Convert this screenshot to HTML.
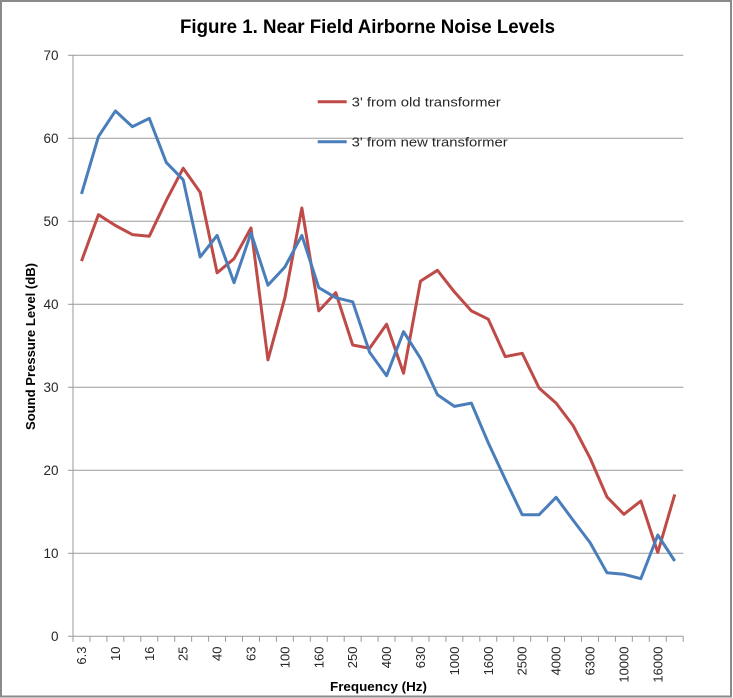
<!DOCTYPE html>
<html><head><meta charset="utf-8"><style>
html,body{margin:0;padding:0;background:#fff;}
svg{display:block;}
text{font-family:"Liberation Sans",Arial,sans-serif;fill:#262626;}
</style></head><body>
<svg width="733" height="698" viewBox="0 0 733 698" xmlns="http://www.w3.org/2000/svg">
<rect x="0" y="0" width="733" height="698" fill="#fff"/>
<rect x="1" y="1" width="730" height="695.5" fill="none" stroke="#8a8a8a" stroke-width="2"/>
<text x="367.5" y="33" font-size="19" font-weight="bold" text-anchor="middle" textLength="375" lengthAdjust="spacingAndGlyphs" style="fill:#000">Figure 1. Near Field Airborne Noise Levels</text>
<g stroke="#9a9a9a" stroke-width="1">
<line x1="73" y1="553.3" x2="683.3" y2="553.3"/>
<line x1="73" y1="470.3" x2="683.3" y2="470.3"/>
<line x1="73" y1="387.3" x2="683.3" y2="387.3"/>
<line x1="73" y1="304.3" x2="683.3" y2="304.3"/>
<line x1="73" y1="221.3" x2="683.3" y2="221.3"/>
<line x1="73" y1="138.3" x2="683.3" y2="138.3"/>
<line x1="73" y1="55.3" x2="683.3" y2="55.3"/>
<line x1="73" y1="55.3" x2="73" y2="636.3"/>
<line x1="68" y1="636.3" x2="683.3" y2="636.3"/>
<line x1="68" y1="553.3" x2="73" y2="553.3"/>
<line x1="68" y1="470.3" x2="73" y2="470.3"/>
<line x1="68" y1="387.3" x2="73" y2="387.3"/>
<line x1="68" y1="304.3" x2="73" y2="304.3"/>
<line x1="68" y1="221.3" x2="73" y2="221.3"/>
<line x1="68" y1="138.3" x2="73" y2="138.3"/>
<line x1="68" y1="55.3" x2="73" y2="55.3"/>
</g>
<g stroke="#9a9a9a" stroke-width="1" id="xt"></g>
<path stroke="#9a9a9a" stroke-width="1" fill="none" d="M73 636.3v5.5M89.95 636.3v5.5M106.9 636.3v5.5M123.85 636.3v5.5M140.8 636.3v5.5M157.75 636.3v5.5M174.7 636.3v5.5M191.65 636.3v5.5M208.6 636.3v5.5M225.55 636.3v5.5M242.5 636.3v5.5M259.45 636.3v5.5M276.4 636.3v5.5M293.35 636.3v5.5M310.3 636.3v5.5M327.25 636.3v5.5M344.2 636.3v5.5M361.15 636.3v5.5M378.1 636.3v5.5M395.05 636.3v5.5M412 636.3v5.5M428.95 636.3v5.5M445.9 636.3v5.5M462.85 636.3v5.5M479.8 636.3v5.5M496.75 636.3v5.5M513.7 636.3v5.5M530.65 636.3v5.5M547.6 636.3v5.5M564.55 636.3v5.5M581.5 636.3v5.5M598.45 636.3v5.5M615.4 636.3v5.5M632.35 636.3v5.5M649.3 636.3v5.5M666.25 636.3v5.5M683.2 636.3v5.5"/>
<g font-size="13.5" text-anchor="end">
<text x="58.5" y="641">0</text>
<text x="58.5" y="558">10</text>
<text x="58.5" y="475">20</text>
<text x="58.5" y="392">30</text>
<text x="58.5" y="309">40</text>
<text x="58.5" y="226">50</text>
<text x="58.5" y="143">60</text>
<text x="58.5" y="60">70</text>
</g>
<g font-size="13" text-anchor="end">
<text transform="translate(86,646.5) rotate(-90)">6.3</text>
<text transform="translate(119.9,646.5) rotate(-90)">10</text>
<text transform="translate(153.8,646.5) rotate(-90)">16</text>
<text transform="translate(187.7,646.5) rotate(-90)">25</text>
<text transform="translate(221.6,646.5) rotate(-90)">40</text>
<text transform="translate(255.5,646.5) rotate(-90)">63</text>
<text transform="translate(289.4,646.5) rotate(-90)">100</text>
<text transform="translate(323.3,646.5) rotate(-90)">160</text>
<text transform="translate(357.2,646.5) rotate(-90)">250</text>
<text transform="translate(391.1,646.5) rotate(-90)">400</text>
<text transform="translate(425,646.5) rotate(-90)">630</text>
<text transform="translate(458.9,646.5) rotate(-90)">1000</text>
<text transform="translate(492.8,646.5) rotate(-90)">1600</text>
<text transform="translate(526.7,646.5) rotate(-90)">2500</text>
<text transform="translate(560.6,646.5) rotate(-90)">4000</text>
<text transform="translate(594.5,646.5) rotate(-90)">6300</text>
<text transform="translate(628.4,646.5) rotate(-90)">10000</text>
<text transform="translate(662.3,646.5) rotate(-90)">16000</text>
</g>
<text x="378.5" y="691" font-size="13" font-weight="bold" text-anchor="middle" textLength="97" lengthAdjust="spacingAndGlyphs" style="fill:#000">Frequency (Hz)</text>
<text transform="translate(35,346.5) rotate(-90)" font-size="13" font-weight="bold" text-anchor="middle" textLength="167" lengthAdjust="spacingAndGlyphs" style="fill:#000">Sound Pressure Level (dB)</text>
<polyline fill="none" stroke="#BE4B48" stroke-width="3" stroke-linejoin="round" points="81.5,261.1 98.45,214.7 115.4,225.5 132.35,234.6 149.3,236.2 166.25,200.6 183.2,168.2 200.15,192.3 217.1,272.8 234.05,258.7 251,227.9 267.95,359.9 284.9,297.7 301.85,208 318.8,310.9 335.75,292.7 352.7,345 369.65,348.3 386.6,324.2 403.55,373.2 420.5,281.1 437.45,270.3 454.4,291.9 471.35,310.9 488.3,319.2 505.25,356.6 522.2,353.3 539.15,388.1 556.1,403.1 573.05,425.5 590,457.9 606.95,496.9 623.9,514.3 640.85,501 657.8,552.5 674.75,494.4"/>
<polyline fill="none" stroke="#4A7EBB" stroke-width="3" stroke-linejoin="round" points="81.5,193.9 98.45,136.6 115.4,110.9 132.35,126.7 149.3,118.4 166.25,162.4 183.2,179.8 200.15,257 217.1,235.4 234.05,282.7 251,232.9 267.95,285.2 284.9,267 301.85,235.4 318.8,287.7 335.75,297.7 352.7,301.8 369.65,352.4 386.6,375.7 403.55,331.7 420.5,358.3 437.45,394.8 454.4,406.4 471.35,403.1 488.3,442.9 505.25,479.4 522.2,514.7 539.15,514.7 556.1,497.3 573.05,520.1 590,542.5 606.95,572.7 623.9,574.3 640.85,578.7 657.8,535 674.75,561"/>
<line x1="317.7" y1="101.7" x2="346.7" y2="101.7" stroke="#BE4B48" stroke-width="3"/>
<line x1="317.7" y1="141.7" x2="346.7" y2="141.7" stroke="#4A7EBB" stroke-width="3"/>
<text x="351.7" y="106.5" font-size="13" textLength="149" lengthAdjust="spacingAndGlyphs">3' from old transformer</text>
<text x="351.7" y="146.5" font-size="13" textLength="156" lengthAdjust="spacingAndGlyphs">3' from new transformer</text>
</svg>
</body></html>
